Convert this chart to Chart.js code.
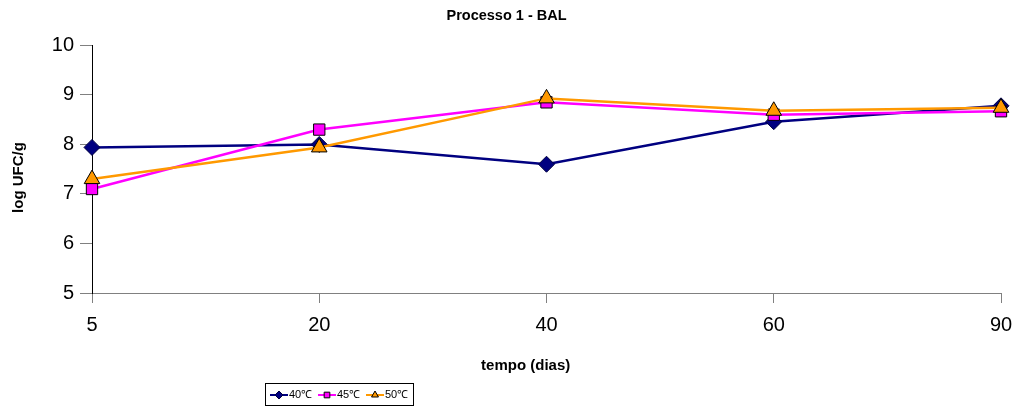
<!DOCTYPE html>
<html>
<head>
<meta charset="utf-8">
<script src="https://cdn.jsdelivr.net/npm/chart.js@4.4.1/dist/chart.umd.min.js"></script>
<style>
  html, body { margin: 0; padding: 0; background: #fff; }
  #wrap { width: 1016px; height: 407px; }
</style>
</head>
<body>
<div id="wrap"><canvas id="chart" width="1016" height="407"></canvas></div>
<script>
const dias = ['5', '20', '40', '60', '90'];
const t40 = [7.94, 8.0, 7.6, 8.46, 8.78];
const t45 = [7.1, 8.3, 8.85, 8.6, 8.67];
const t50 = [7.3, 7.94, 8.93, 8.68, 8.74];
const labels = ['40\u2103', '45\u2103', '50\u2103'];

// legend drawn by hand so it can sit left of centre with a box, like Excel's
const boxLegend = {
  id: 'boxLegend',
  afterDraw(chart) {
    const ctx = chart.ctx;
    const x0 = 265, y0 = 383, w = 148, h = 22;
    ctx.save();
    ctx.strokeStyle = '#000';
    ctx.lineWidth = 1;
    ctx.strokeRect(x0 + 0.5, y0 + 0.5, w, h);
    ctx.font = '11px Arial, "Liberation Sans"';
    ctx.textBaseline = 'middle';
    let x = x0 + 5;
    const y = y0 + h / 2 + 1;
    chart.data.datasets.forEach(ds => {
      ctx.strokeStyle = ds.borderColor;
      ctx.lineWidth = 2;
      ctx.beginPath();
      ctx.moveTo(x, y);
      ctx.lineTo(x + 18, y);
      ctx.stroke();
      ctx.fillStyle = ds.pointBackgroundColor;
      ctx.strokeStyle = ds.pointBorderColor;
      ctx.lineWidth = 1;
      Chart.helpers.drawPoint(ctx, { pointStyle: ds.pointStyle, radius: 4, borderWidth: 1 }, x + 9, y);
      ctx.fillStyle = '#000';
      ctx.fillText(ds.label, x + 19, y);
      x += 48;
    });
    ctx.restore();
  }
};

const bold15 = { family: 'Arial, "Liberation Sans"', size: 15, weight: 'bold' };
const nb = n => '\u00a0'.repeat(n);

new Chart(document.getElementById('chart').getContext('2d'), {
  type: 'line',
  data: {
    labels: dias,
    datasets: [
      {
        label: labels[0], data: t40, order: 3,
        borderColor: '#000080', borderWidth: 2.5,
        pointStyle: 'rectRot', pointRadius: 8,
        pointBackgroundColor: '#000080', pointBorderColor: '#000040', pointBorderWidth: 1
      },
      {
        label: labels[1], data: t45, order: 2,
        borderColor: '#ff00ff', borderWidth: 2.5,
        pointStyle: 'rect', pointRadius: 8,
        pointBackgroundColor: '#ff00ff', pointBorderColor: '#000', pointBorderWidth: 1
      },
      {
        label: labels[2], data: t50, order: 1,
        borderColor: '#ff9900', borderWidth: 2.5,
        pointStyle: 'triangle', pointRadius: 9,
        pointBackgroundColor: '#ff9900', pointBorderColor: '#000', pointBorderWidth: 1
      }
    ]
  },
  options: {
    responsive: false,
    animation: false,
    layout: { autoPadding: false, padding: { left: 0, right: 15, top: 0, bottom: 29 } },
    plugins: {
      legend: { display: false },
      tooltip: { enabled: false },
      title: {
        display: true,
        text: nb(3) + 'Processo 1 - BAL',
        color: '#000',
        font: { family: 'Arial, "Liberation Sans"', size: 14.5, weight: 'bold' },
        padding: { top: 7, bottom: 21 }
      }
    },
    scales: {
      x: {
        offset: false,
        grid: { drawOnChartArea: false, color: '#808080', tickLength: 10 },
        border: { color: '#808080' },
        ticks: { color: '#000', font: { family: 'Arial, "Liberation Sans"', size: 20 }, padding: 10, maxRotation: 0 },
        title: {
          display: true,
          // trailing spaces pull the centred title left, where Excel put it
          text: 'tempo (dias)' + nb(10),
          color: '#000', font: bold15,
          padding: { top: 0, bottom: 3 }
        },
        afterFit(scale) {
          scale.height = 85;
          scale.paddingLeft = 0;
          scale.paddingRight = 0;
        }
      },
      y: {
        min: 5, max: 10,
        grid: { drawOnChartArea: false, color: '#808080', tickLength: 12 },
        border: { color: '#000' },
        ticks: { stepSize: 1, color: '#000', font: { family: 'Arial, "Liberation Sans"', size: 20 }, padding: 6 },
        title: {
          display: true,
          text: 'log UFC/g' + nb(4),
          color: '#000', font: bold15,
          padding: { top: 10, bottom: 0 }
        },
        afterFit(scale) { scale.width = 92; }
      }
    }
  },
  plugins: [boxLegend]
});
</script>
</body>
</html>
